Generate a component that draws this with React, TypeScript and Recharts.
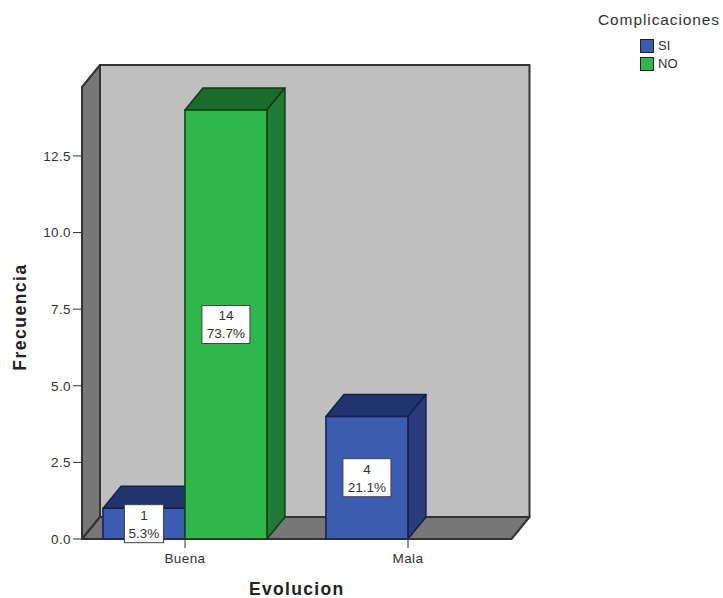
import React from "react";
import { Bar, BarChart, LabelList, Legend, XAxis, YAxis, usePlotArea } from "recharts";

const categories = ["Buena", "Mala"];
const siValues = [1, 4];
const noValues = [14, 0];
const yTicks = [0, 2.5, 5, 7.5, 10, 12.5];
const totalCases = 19;

const rows = categories.map((name, i) => ({ name, SI: siValues[i], NO: noValues[i] }));

const FONT = "'Liberation Sans', Arial, sans-serif";
// offset of the back plane from the front plane
const DEPTH_X = 18;
const DEPTH_Y = 22;
const LINE = "#333333";

function Walls() {
  const plot = usePlotArea();
  if (!plot) return null;
  const l = plot.x;
  const t = plot.y;
  const r = plot.x + plot.width;
  const b = plot.y + plot.height;
  return (
    <g stroke={LINE} strokeWidth={2} strokeLinejoin="round">
      <rect x={l + DEPTH_X} y={t - DEPTH_Y} width={plot.width} height={plot.height} fill="#bfbfbf" />
      <polygon
        points={`${l},${t} ${l + DEPTH_X},${t - DEPTH_Y} ${l + DEPTH_X},${b - DEPTH_Y} ${l},${b}`}
        fill="#777777"
      />
      <polygon
        points={`${l},${b} ${l + DEPTH_X},${b - DEPTH_Y} ${r + DEPTH_X},${b - DEPTH_Y} ${r},${b}`}
        fill="#777777"
      />
    </g>
  );
}

function box3d(colors: { front: string; top: string; side: string; edge: string }) {
  return function Box3d(props: any) {
    const { x, y, width, height } = props;
    if (!height || height <= 0) return <g />;
    const r = x + width;
    const b = y + height;
    return (
      <g stroke={colors.edge} strokeWidth={1.5} strokeLinejoin="round">
        <polygon
          points={`${x},${y} ${x + DEPTH_X},${y - DEPTH_Y} ${r + DEPTH_X},${y - DEPTH_Y} ${r},${y}`}
          fill={colors.top}
        />
        <polygon
          points={`${r},${y} ${r + DEPTH_X},${y - DEPTH_Y} ${r + DEPTH_X},${b - DEPTH_Y} ${r},${b}`}
          fill={colors.side}
        />
        <rect x={x} y={y} width={width} height={height} fill={colors.front} />
      </g>
    );
  };
}

const siShape = box3d({ front: "#3c5cb2", top: "#22346f", side: "#2a3c7c", edge: "#141f4d" });
const noShape = box3d({ front: "#2fb84a", top: "#1b6b2a", side: "#1f7a33", edge: "#0d3d16" });

// white box in the middle of a bar with the count and its share of all cases
function CountLabel(props: any) {
  const { x, y, width, height, value } = props;
  if (!value) return null;
  const pct = `${((value / totalCases) * 100).toFixed(1)}%`;
  const cx = x + width / 2;
  const cy = y + height / 2;
  const w = pct.length > 4 ? 48 : 39;
  return (
    <g fontFamily={FONT} fontSize={13.5} fill="#333333" stroke="none" textAnchor="middle">
      <rect x={cx - w / 2} y={cy - 19} width={w} height={38} fill="#ffffff" stroke="#444444" strokeWidth={1} />
      <text x={cx} y={cy - 4}>{value}</text>
      <text x={cx} y={cy + 14}>{pct}</text>
    </g>
  );
}

function LegendBlock(props: any) {
  return (
    <div style={{ fontFamily: FONT, color: "#333333" }}>
      <div style={{ position: "absolute", left: 598, top: 11, fontSize: 15.5, letterSpacing: 0.9, whiteSpace: "nowrap" }}>
        Complicaciones
      </div>
      {props.payload.map((item: any, i: number) => (
        <div key={item.value} style={{ position: "absolute", left: 640, top: 39 + i * 18 }}>
          <div
            style={{
              width: 12,
              height: 12,
              background: item.color,
              border: "1px solid #222222",
            }}
          />
          <div style={{ position: "absolute", left: 18, top: -1, fontSize: 13 }}>{item.value}</div>
        </div>
      ))}
    </div>
  );
}

export default function App() {
  return (
    <div style={{ position: "absolute", left: 0, top: 0, width: 723, height: 598, background: "#ffffff" }}>
      <BarChart
        width={723}
        height={598}
        data={rows}
        margin={{ top: 87, right: 211.5, bottom: 0, left: 0 }}
        barCategoryGap="13.2%"
        barGap={0}
      >
        <Walls />
        <XAxis
          dataKey="name"
          height={59}
          padding={{ left: -8.5, right: -8 }}
          stroke={LINE}
          tickSize={9}
          tickMargin={5}
          tick={{ fontFamily: FONT, fontSize: 13.5, fill: "#333333", letterSpacing: 0.4 }}
          label={{
            value: "Evolucion",
            position: "insideBottom",
            offset: 3,
            style: { fontFamily: FONT, fontSize: 17.5, fontWeight: 700, fill: "#222222", letterSpacing: 1.3 },
          }}
        />
        <YAxis
          width={82}
          domain={[0, 14.75]}
          ticks={yTicks}
          tickFormatter={(v) => v.toFixed(1)}
          stroke={LINE}
          tickSize={9}
          tick={{ fontFamily: FONT, fontSize: 13.5, fill: "#333333", letterSpacing: 0.4 }}
          label={{
            value: "Frecuencia",
            angle: -90,
            position: "insideLeft",
            offset: 20,
            dy: 4,
            style: { textAnchor: "middle", fontFamily: FONT, fontSize: 17.5, fontWeight: 700, fill: "#222222", letterSpacing: 1.5 },
          }}
        />
        <Bar dataKey="SI" fill="#3c5cb2" shape={siShape} isAnimationActive={false}>
          <LabelList dataKey="SI" content={CountLabel} />
        </Bar>
        <Bar dataKey="NO" fill="#2fb84a" shape={noShape} isAnimationActive={false}>
          <LabelList dataKey="NO" content={CountLabel} />
        </Bar>
        <Legend
          layout="horizontal"
          align="center"
          verticalAlign="middle"
          itemSorter={null}
          wrapperStyle={{ position: "absolute", left: 0, top: 0, width: 0, height: 0 }}
          content={LegendBlock}
        />
      </BarChart>
    </div>
  );
}
